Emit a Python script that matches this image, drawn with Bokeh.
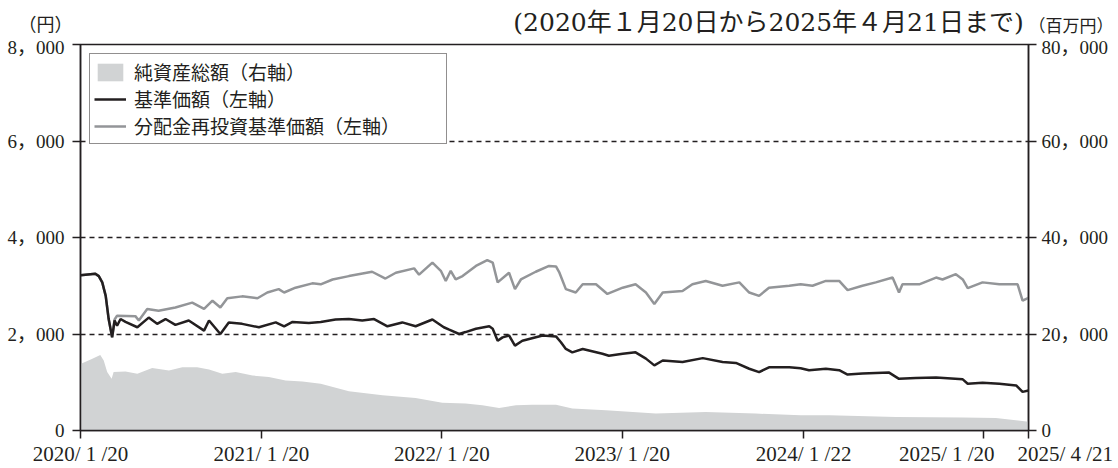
import pandas as pd
from bokeh.plotting import figure
from bokeh.layouts import column
from bokeh.models import (Range1d, LinearAxis, FixedTicker, Legend, LegendItem,
                          CustomJSTickFormatter, ColumnDataSource)
from bokeh.core.properties import value
from bokeh.embed import file_html
from bokeh.resources import INLINE

# ---------------- data ----------------
price_dates = ["2020-01-20","2020-02-19","2020-02-26","2020-03-04","2020-03-11","2020-03-17","2020-03-24","2020-03-29","2020-04-03","2020-04-10","2020-04-20","2020-05-14","2020-06-06","2020-06-23","2020-07-10","2020-07-30","2020-08-26","2020-09-26","2020-10-06","2020-10-29","2020-11-15","2020-12-12",
               "2021-01-15","2021-02-18","2021-03-07","2021-03-24","2021-04-26","2021-05-20","2021-06-19","2021-07-16","2021-08-12","2021-09-05","2021-10-02","2021-11-01","2021-11-28",
               "2022-01-01","2022-01-24","2022-02-04","2022-02-24","2022-03-09","2022-03-30","2022-04-26","2022-05-03","2022-05-13","2022-05-23","2022-06-05","2022-06-17","2022-07-02","2022-08-12","2022-09-08","2022-09-18","2022-09-28","2022-10-11","2022-11-01","2022-12-11","2022-12-24",
               "2023-01-21","2023-02-16","2023-03-09","2023-03-26","2023-04-12","2023-05-22","2023-07-02","2023-08-11","2023-09-07","2023-10-04","2023-10-24","2023-11-13","2023-12-24",
               "2024-01-16","2024-02-02","2024-03-07","2024-04-03","2024-04-20","2024-05-20","2024-07-13","2024-08-02","2024-09-05","2024-10-16","2024-12-09","2024-12-19",
               "2025-01-18","2025-02-21","2025-03-27","2025-04-09","2025-04-21"]
price = [3220,3250,3200,3070,2790,2310,1930,2280,2170,2310,2250,2140,2340,2210,2310,2190,2280,2070,2280,2000,2240,2210,
         2140,2240,2160,2250,2230,2250,2300,2310,2280,2310,2160,2240,2160,
         2300,2140,2090,2000,2040,2110,2160,2110,1860,1930,1970,1760,1860,1970,1950,1830,1690,1620,1690,1590,1550,
         1590,1620,1490,1350,1450,1420,1500,1420,1400,1280,1210,1310,1310,
         1290,1250,1280,1250,1160,1180,1200,1070,1090,1100,1060,970,
         990,970,935,800,830]

reinv_dates = ["2020-01-20","2020-02-19","2020-02-26","2020-03-04","2020-03-11","2020-03-17","2020-03-24","2020-03-29","2020-04-03","2020-05-10","2020-05-17","2020-06-03","2020-06-26","2020-07-30","2020-09-02","2020-09-26","2020-10-13","2020-10-29","2020-11-12","2020-12-12",
               "2021-01-12","2021-02-01","2021-02-24","2021-03-07","2021-03-30","2021-05-03","2021-05-20","2021-06-13","2021-07-16","2021-09-01","2021-09-28","2021-10-19","2021-11-25","2021-12-05",
               "2022-01-01","2022-01-18","2022-01-28","2022-02-07","2022-02-17","2022-03-03","2022-03-30","2022-04-22","2022-05-03","2022-05-13","2022-06-05","2022-06-17","2022-06-29","2022-07-29","2022-08-25","2022-09-08","2022-09-15","2022-09-28","2022-10-18","2022-11-01","2022-11-28","2022-12-21",
               "2023-01-21","2023-02-16","2023-03-09","2023-03-26","2023-04-12","2023-05-22","2023-06-11","2023-07-08","2023-08-11","2023-09-14","2023-10-04","2023-10-24","2023-11-13","2023-12-24",
               "2024-01-16","2024-02-09","2024-03-07","2024-04-03","2024-04-20","2024-05-20","2024-06-16","2024-07-20","2024-08-02","2024-08-09","2024-09-12","2024-10-16","2024-10-29","2024-11-25","2024-12-09","2024-12-19",
               "2025-01-18","2025-02-21","2025-03-30","2025-04-09","2025-04-21"]
reinv = [3220,3250,3200,3070,2790,2310,1930,2300,2380,2370,2280,2520,2480,2550,2650,2520,2690,2550,2740,2780,
         2740,2860,2930,2860,2960,3050,3030,3130,3200,3290,3150,3270,3360,3230,
         3480,3310,3100,3310,3130,3200,3410,3530,3480,3070,3270,2930,3130,3290,3410,3400,3270,2930,2860,3030,3030,2830,
         2960,3030,2860,2620,2860,2890,3030,3100,3000,3070,2860,2790,2960,3000,
         3030,3000,3100,3100,2910,3000,3070,3170,2860,3030,3030,3170,3130,3240,3130,2950,
         3070,3030,3030,2690,2750]

asset_dates = ["2020-01-20","2020-02-13","2020-02-29","2020-03-07","2020-03-14","2020-03-23","2020-03-27","2020-04-20","2020-05-14","2020-06-13","2020-07-17","2020-08-13","2020-09-12","2020-10-06","2020-11-02","2020-11-29",
               "2021-01-02","2021-02-04","2021-03-10","2021-04-13","2021-05-20","2021-07-16","2021-09-22","2021-11-28",
               "2022-01-21","2022-03-09","2022-04-12","2022-05-16","2022-06-19","2022-07-22","2022-09-08","2022-10-11","2022-12-18",
               "2023-03-29","2023-07-08","2023-10-17",
               "2024-01-16","2024-03-14","2024-07-27","2024-12-09",
               "2025-02-14","2025-04-21"]
assets = [13800,14850,15670,14500,12100,10720,12100,12230,11750,12930,12440,13130,13130,12640,11750,12100,
          11400,11070,10370,10170,9690,8110,7290,6740,
          5770,5570,5220,4670,5220,5360,5360,4540,4190,
          3500,3850,3500,
          3160,3160,2820,2680,
          2610,1790]

x_tick_dates = ["2020-01-20","2021-01-20","2022-01-20","2023-01-20","2024-01-22","2025-01-20","2025-04-21"]
left_ticks = [0, 2000, 4000, 6000, 8000]
left_labels = ["0", "2，000", "4，000", "6，000", "8，000"]
right_ticks = [0, 20000, 40000, 60000, 80000]
right_labels = ["0", "20，000", "40，000", "60，000", "80，000"]

legend_labels = ["純資産総額（右軸）", "基準価額（左軸）", "分配金再投資基準価額（左軸）"]
title_text = "(2020年１月20日から2025年４月21日まで)"
left_unit = "（円）"
right_unit = "（百万円）"

# ---------------- styling / layout ----------------
INK = "#231f20"
GRAY_LINE = "#939598"
AREA = "#d1d3d4"
FONT = "'Liberation Serif', 'Noto Sans CJK JP'"
TFONT = "'DejaVu Serif', 'Noto Sans CJK JP'"

W = 1118
TOP_H, MAIN_H = 36, 432
BORDER_L, BORDER_R = 80, 90
EM, EN = "\u2003", "\u2002"
# padding that nudges the last two date labels apart (left / right of their ticks)
label_pad = [("", ""), ("", ""), ("", ""), ("", ""), ("", ""),
             ("", EM * 3 + EN), (EM * 3 + EN, "")]

start = pd.Timestamp(x_tick_dates[0])
end = pd.Timestamp(x_tick_dates[-1])

# ---------------- top strip (units + period) ----------------
top = figure(width=W, height=TOP_H, x_range=Range1d(BORDER_L, W - BORDER_R),
             y_range=Range1d(TOP_H, 0), output_backend="svg", toolbar_location=None,
             min_border_left=BORDER_L, min_border_right=BORDER_R,
             min_border_top=0, min_border_bottom=0,
             x_axis_location=None, y_axis_location=None)
top.outline_line_color = None
top.grid.visible = False
top.text(x=[768], y=[21.5], text=[title_text], text_align="center", text_baseline="middle",
         text_font=value(TFONT), text_font_size="25px", text_color=INK)

def unit_axis(tick_y, label, standoff, size):
    return LinearAxis(ticker=FixedTicker(ticks=[tick_y]),
                      major_label_overrides={tick_y: label},
                      axis_line_color=None, major_tick_line_color=None,
                      minor_tick_line_color=None, major_tick_out=0, major_tick_in=0,
                      major_label_standoff=standoff, major_label_text_color=INK,
                      major_label_text_font=FONT, major_label_text_font_size=size)

top.add_layout(unit_axis(28, left_unit, 8, "18px"), "left")
top.add_layout(unit_axis(27, right_unit, 0, "17px"), "right")

# ---------------- main chart ----------------
p = figure(width=W, height=MAIN_H, x_axis_type="datetime",
           x_range=Range1d(start, end), y_range=Range1d(0, 8000),
           output_backend="svg", toolbar_location=None,
           min_border_left=BORDER_L, min_border_right=BORDER_R,
           min_border_top=8, min_border_bottom=36)
p.extra_y_ranges = {"assets": Range1d(0, 80000)}
p.background_fill_color = "white"
p.border_fill_color = "white"
p.outline_line_color = INK
p.outline_line_width = 1.5

src_a = ColumnDataSource(dict(x=pd.to_datetime(asset_dates), y=assets))
src_p = ColumnDataSource(dict(x=pd.to_datetime(price_dates), y=price))
src_r = ColumnDataSource(dict(x=pd.to_datetime(reinv_dates), y=reinv))

r_area = p.varea(x="x", y1=0, y2="y", source=src_a, fill_color=AREA, y_range_name="assets")
r_reinv = p.line(x="x", y="y", source=src_r, line_color=GRAY_LINE, line_width=2.5)
r_price = p.line(x="x", y="y", source=src_p, line_color=INK, line_width=2.5)

x_labels = []
for d, (pre, post) in zip(x_tick_dates, label_pad):
    t = pd.Timestamp(d)
    x_labels.append(f"{pre}{t.year}/ {t.month} /{t.day}{post}")

tick_ms = [pd.Timestamp(d).value // 10**6 for d in x_tick_dates]
xa = p.xaxis[0]
xa.ticker = FixedTicker(ticks=tick_ms)
xa.formatter = CustomJSTickFormatter(args=dict(labels=x_labels), code="""
const i = ticks.indexOf(tick);
return i >= 0 ? labels[i] : "";
""")
xa.major_label_text_font = FONT
xa.major_label_text_font_size = "21px"
xa.major_label_standoff = 3

ya = p.yaxis[0]
ya.ticker = FixedTicker(ticks=left_ticks)
ya.major_label_overrides = dict(zip(left_ticks, left_labels))

ra = LinearAxis(y_range_name="assets", ticker=FixedTicker(ticks=right_ticks),
                major_label_overrides=dict(zip(right_ticks, right_labels)))
p.add_layout(ra, "right")

for ax in [xa, ya, ra]:
    ax.axis_line_color = INK
    ax.axis_line_width = 1.5
    ax.major_tick_line_color = INK
    ax.major_tick_line_width = 1.5
    ax.major_tick_out = 8
    ax.major_tick_in = 0
    ax.minor_tick_line_color = None
    ax.major_label_text_color = INK
for ax in [ya, ra]:
    ax.major_label_text_font = FONT
    ax.major_label_text_font_size = "19px"
ya.major_label_standoff = 8
ra.major_label_standoff = 5

p.xgrid.visible = False
p.ygrid.ticker = FixedTicker(ticks=[2000, 4000, 6000])
p.ygrid.grid_line_color = INK
p.ygrid.grid_line_width = 1.3
p.ygrid.grid_line_dash = "5 4"

legend = Legend(items=[LegendItem(label=legend_labels[0], renderers=[r_area]),
                       LegendItem(label=legend_labels[1], renderers=[r_price]),
                       LegendItem(label=legend_labels[2], renderers=[r_reinv])],
                location="top_left")
legend.margin = 9
legend.padding = 4
legend.spacing = 0
legend.glyph_width = 32
legend.glyph_height = 22
legend.label_height = 22
legend.label_width = 308
legend.label_standoff = 8
legend.label_text_font = FONT
legend.label_text_font_size = "19px"
legend.label_text_color = INK
legend.border_line_color = INK
legend.border_line_width = 1.5
legend.background_fill_color = "white"
legend.background_fill_alpha = 1
p.add_layout(legend)

layout = column(top, p, spacing=0)
open("out.html", "w").write(file_html(layout, INLINE))
